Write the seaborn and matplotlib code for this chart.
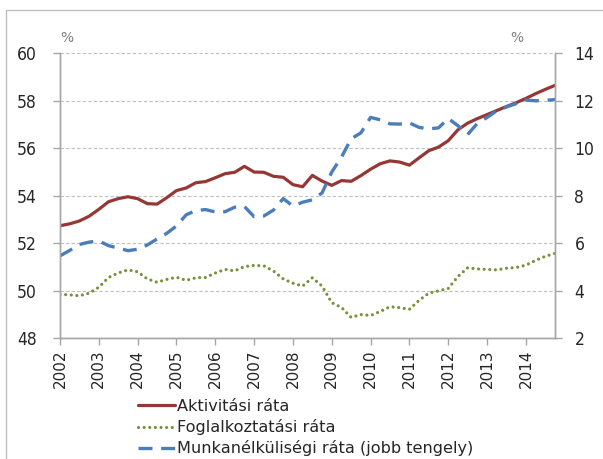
import numpy as np
import pandas as pd
import matplotlib
matplotlib.use("Agg")
import matplotlib.pyplot as plt
import seaborn as sns
from matplotlib.patches import Rectangle

# Quarterly data, 2002 Q1 - 2014 Q4
years = [str(y) for y in range(2002, 2015)]

aktivitasi = [52.74, 52.82, 52.94, 53.14, 53.43, 53.75, 53.88, 53.96, 53.88, 53.67,
              53.65, 53.92, 54.22, 54.33, 54.55, 54.60, 54.76, 54.93, 54.99, 55.24,
              55.00, 54.99, 54.82, 54.78, 54.47, 54.38, 54.86, 54.62, 54.44, 54.64,
              54.61, 54.85, 55.12, 55.35, 55.47, 55.42, 55.29, 55.60, 55.90, 56.05,
              56.32, 56.78, 57.06, 57.25, 57.42, 57.59, 57.76, 57.92, 58.10, 58.30,
              58.48, 58.65]

foglalkoztatasi = [49.85, 49.83, 49.79, 49.90, 50.15, 50.56, 50.75, 50.88, 50.80, 50.50,
                   50.36, 50.48, 50.57, 50.44, 50.55, 50.56, 50.75, 50.90, 50.84, 51.02,
                   51.07, 51.05, 50.83, 50.50, 50.32, 50.20, 50.55, 50.20, 49.50, 49.30,
                   48.88, 49.00, 48.96, 49.13, 49.33, 49.29, 49.22, 49.60, 49.90, 50.00,
                   50.10, 50.60, 50.97, 50.92, 50.90, 50.88, 50.95, 50.98, 51.08, 51.28,
                   51.45, 51.58]

munkanelkuli = [5.47, 5.70, 5.95, 6.05, 6.10, 5.90, 5.80, 5.69, 5.75, 5.93,
                6.18, 6.42, 6.73, 7.20, 7.38, 7.42, 7.32, 7.33, 7.52, 7.55,
                7.12, 7.15, 7.40, 7.88, 7.57, 7.73, 7.83, 8.12, 9.00, 9.63,
                10.40, 10.65, 11.30, 11.20, 11.03, 11.02, 11.07, 10.88, 10.82, 10.86,
                11.26, 10.95, 10.58, 11.05, 11.30, 11.58, 11.74, 11.88, 12.03, 12.00,
                12.02, 12.05]

df = pd.DataFrame({
    "negyedev": np.arange(len(aktivitasi)),
    "aktivitasi": aktivitasi,
    "foglalkoztatasi": foglalkoztatasi,
    "munkanelkuli": munkanelkuli,
})

sns.set_theme(style="white")
plt.rcParams['font.family'] = ['DejaVu Sans']

red = "#953735"
green = "#77933C"
blue = "#4A7EBB"
axis_gray = "#A6A6A6"

fig = plt.figure(figsize=(6.03, 4.59), dpi=100)
ax = fig.add_axes([60 / 603, 1 - 338.3 / 459, 495 / 603, 285 / 459])
ax2 = ax.twinx()

sns.lineplot(data=df, x="negyedev", y="aktivitasi", ax=ax, color=red, lw=2.3,
             label="Aktivitási ráta", legend=False)
sns.lineplot(data=df, x="negyedev", y="foglalkoztatasi", ax=ax, color=green, lw=2.3,
             label="Foglalkoztatási ráta", legend=False,
             linestyle=(0, (0.01, 1.75)), dash_capstyle="round")
sns.lineplot(data=df, x="negyedev", y="munkanelkuli", ax=ax2, color=blue, lw=2.4,
             label="Munkanélküliségi ráta (jobb tengely)", legend=False,
             linestyle=(0, (4.2, 2.6)))

ax.set_xlim(0, len(aktivitasi) - 1)
ax.set_ylim(48, 60)
ax2.set_ylim(2, 14)
ax.set_yticks(np.arange(48, 61, 2))
ax2.set_yticks(np.arange(2, 15, 2))
ax.set_xticks(np.arange(0, len(aktivitasi), 4))
ax.set_xticklabels(years, rotation=90)
ax.set_xlabel("")
ax.set_ylabel("")
ax2.set_ylabel("")

ax.grid(axis="y", color="#BFBFBF", linestyle=(0, (3, 2)), lw=0.8)
ax.set_axisbelow(True)

for a in (ax, ax2):
    a.spines["top"].set_visible(False)
    for side in ("left", "right", "bottom"):
        a.spines[side].set_color(axis_gray)
        a.spines[side].set_linewidth(1.0)
ax.tick_params(axis="y", direction="out", length=5, width=1, color=axis_gray,
               labelsize=12.5, pad=12, left=True)
ax2.tick_params(axis="y", direction="out", length=5, width=1, color=axis_gray,
                labelsize=12.5, pad=9, right=True)
ax.tick_params(axis="x", direction="out", length=5, width=1, color=axis_gray,
               labelsize=11, pad=3, bottom=True)
for lbl in ax.get_yticklabels() + ax2.get_yticklabels():
    lbl.set_stretch("condensed")

fig.text(67 / 603, 1 - 38 / 459, "%", color="#7F7F7F", fontsize=10, ha="center", va="center")
fig.text(517 / 603, 1 - 38 / 459, "%", color="#7F7F7F", fontsize=10, ha="center", va="center")

handles = ax.get_lines()[:2] + ax2.get_lines()[:1]
fig.legend(handles=handles, labels=[h.get_label() for h in handles],
           loc="upper left", bbox_to_anchor=(138 / 603, 1 - 399 / 459),
           frameon=False, fontsize=11.6, handlelength=2.3, handletextpad=0.15,
           labelspacing=0.32, borderpad=0, borderaxespad=0)

fig.patches.append(Rectangle((5.5 / 603, -0.2), 1.2, 1.2 - 10.5 / 459,
                             transform=fig.transFigure, fill=False,
                             edgecolor="#BFBFBF", lw=1.0))

fig.savefig("out.png", dpi=100)
